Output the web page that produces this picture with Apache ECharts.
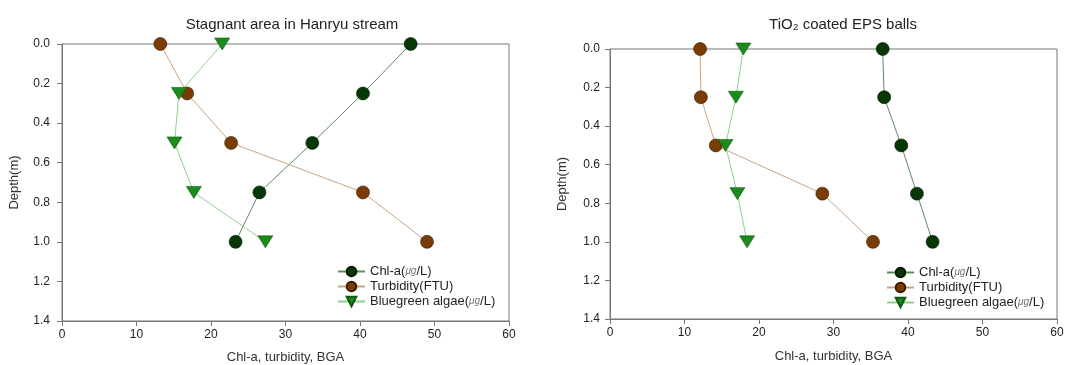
<!DOCTYPE html>
<html><head><meta charset="utf-8">
<script src="https://cdn.jsdelivr.net/npm/echarts@6/dist/echarts.min.js"></script>
<style>html,body{margin:0;padding:0;background:#fff}#c{width:1072px;height:365px}</style>
</head><body><div id="c"></div>
<script>
const depths = [0, 0.25, 0.5, 0.75, 1.0];
const seriesNames = ['Chl-a(μg/L)', 'Turbidity(FTU)', 'Bluegreen algae(μg/L)'];
const leftChla = [46.8, 40.4, 33.6, 26.5, 23.3];
const leftTurb = [13.2, 16.8, 22.7, 40.4, 49.0];
const leftBGA  = [21.5, 15.7, 15.1, 17.7, 27.3];
const rightChla = [36.6, 36.8, 39.1, 41.2, 43.3];
const rightTurb = [12.1, 12.2, 14.2, 28.5, 35.3];
const rightBGA  = [17.9, 16.9, 15.5, 17.1, 18.4];

const FONT = 'Arial, "Liberation Sans", sans-serif';
const styles = [
  {symbol:'circle', size:13, color:'#063806', border:'#001a00', line:'#5f8a5f'},
  {symbol:'circle', size:13, color:'#7a3c05', border:'#3a1a00', line:'#c9a482'},
  {symbol:'triangle', size:[15,12], color:'#1c8a1c', border:'#0d5a0d', line:'#8fd08f'}
];

function pairs(xs){ return xs.map((v,i)=>[v, depths[i]]); }

function mkSeries(idx, data){
  return data.map((d,k)=>({
    name: seriesNames[k], type:'line', xAxisIndex:idx, yAxisIndex:idx,
    data: pairs(d), symbol: styles[k].symbol, symbolSize: styles[k].size,
    symbolRotate: styles[k].symbol==='triangle'?180:0,
    lineStyle:{color:styles[k].line, width:1},
    itemStyle:{color:styles[k].color, borderColor:styles[k].border, borderWidth:0.6},
    emphasis:{disabled:true}, animation:false, z: 3
  }));
}

function xAx(i, gap){
  return {gridIndex:i, type:'value', min:0, max:60, interval:10, position:'bottom',
    name:'Chl-a, turbidity, BGA', nameLocation:'middle', nameGap:gap,
    nameTextStyle:{fontFamily:FONT, fontSize:13, color:'#333'},
    axisLine:{show:true, onZero:false, lineStyle:{color:'#777'}},
    axisTick:{show:true, length:5, lineStyle:{color:'#777'}},
    axisLabel:{fontFamily:FONT, fontSize:12, color:'#222', margin:8},
    splitLine:{show:false}};
}
function yAx(i, margin){
  return {gridIndex:i, type:'value', min:0, max:1.4, interval:0.2, inverse:true, position:'left',
    name:'Depth(m)', nameLocation:'middle', nameGap:41, nameRotate:90,
    nameTextStyle:{fontFamily:FONT, fontSize:13, color:'#333'},
    axisLine:{show:true, onZero:false, lineStyle:{color:'#777'}},
    axisTick:{show:true, length:5, lineStyle:{color:'#777'}},
    axisLabel:{fontFamily:FONT, fontSize:12, color:'#222', margin:margin, formatter:v=>v.toFixed(1)},
    splitLine:{show:false}};
}
function legend(left, top){
  return {orient:'vertical', left:left, top:top, itemWidth:27, itemHeight:12, itemGap:2,
    data: seriesNames, selectedMode:false,
    formatter: n => n.replace('μg', '{u|μg}'),
    textStyle:{fontFamily:FONT, fontSize:13, color:'#222',
      rich:{u:{fontFamily:FONT, fontSize:10, fontStyle:'italic', color:'#777'}}}};
}

const chart = echarts.init(document.getElementById('c'), null, {renderer:'canvas'});
chart.setOption({
  backgroundColor:'#fff',
  animation:false,
  title:[
    {text:'Stagnant area in Hanryu stream', left:287, top:12, textAlign:'center',
     textStyle:{fontFamily:FONT, fontSize:15, fontWeight:'normal', color:'#222'}},
    {text:'TiO₂ coated EPS balls', left:838, top:12, textAlign:'center',
     textStyle:{fontFamily:FONT, fontSize:15, fontWeight:'normal', color:'#222'}}
  ],
  grid:[
    {left:62, top:44, width:447, height:277, show:true, borderColor:'#777', borderWidth:1,
     backgroundColor:'transparent', containLabel:false, outerBoundsMode:'none'},
    {left:610, top:49, width:447, height:270, show:true, borderColor:'#777', borderWidth:1,
     backgroundColor:'transparent', containLabel:false, outerBoundsMode:'none'}
  ],
  xAxis:[xAx(0, 30), xAx(1, 31)],
  yAxis:[yAx(0, 12), yAx(1, 10)],
  legend:[legend(332, 260), legend(881, 261)],
  series:[...mkSeries(0,[leftChla,leftTurb,leftBGA]), ...mkSeries(1,[rightChla,rightTurb,rightBGA])]
});
</script></body></html>
